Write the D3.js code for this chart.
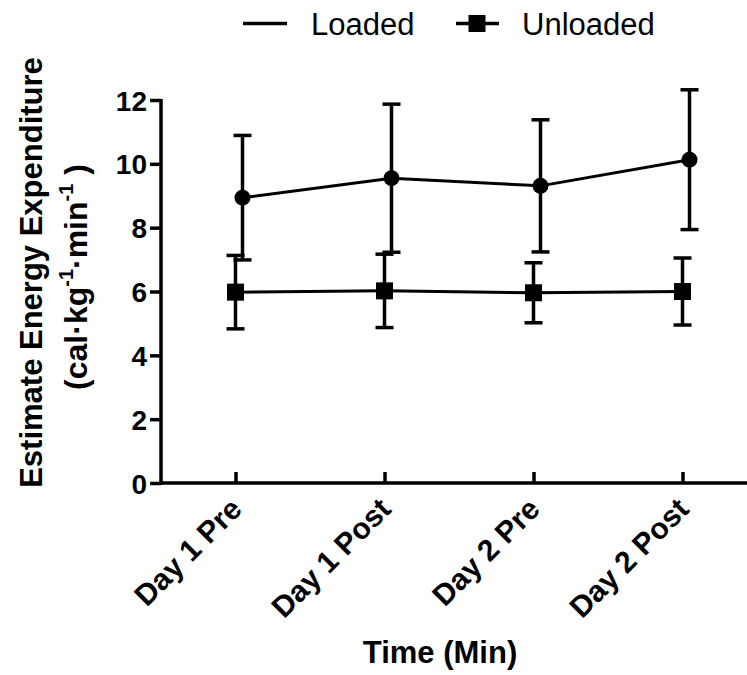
<!DOCTYPE html>
<html>
<head>
<meta charset="utf-8">
<script src="https://cdn.jsdelivr.net/npm/d3@7/dist/d3.min.js"></script>
<style>
  html, body { margin: 0; padding: 0; background: #fff; }
  svg { display: block; font-family: "Liberation Sans", Arial, Helvetica, sans-serif; }
</style>
</head>
<body>
<svg id="chart" width="747" height="675"></svg>
<script>
const categories = ["Day 1 Pre", "Day 1 Post", "Day 2 Pre", "Day 2 Post"];
const loadedMean = [8.94, 9.55, 9.31, 10.13];
const loadedSD = [1.95, 2.32, 2.07, 2.19];
const unloadedMean = [5.98, 6.02, 5.96, 6.00];
const unloadedSD = [1.15, 1.15, 0.94, 1.05];
const yTicks = [0, 2, 4, 6, 8, 10, 12];
const seriesNames = ["Loaded", "Unloaded"];

(function () {
const svg = d3.select("#chart");
const pLeft = 161, pTop = 100, pBottom = 483, pRight = 757;

const x = d3.scalePoint().domain(categories).range([pLeft, pRight]).padding(0.5);
const y = d3.scaleLinear().domain([0, 12]).range([pBottom, pTop]);

// Axes
const yAxis = svg.append("g").attr("transform", `translate(${pLeft},0)`)
  .call(d3.axisLeft(y).tickValues(yTicks).tickSize(11).tickPadding(3).tickFormat(d3.format("d")));
const xAxis = svg.append("g").attr("transform", `translate(0,${pBottom})`)
  .call(d3.axisBottom(x).tickSize(-11).tickFormat(""));
[yAxis, xAxis].forEach(g => {
  g.select(".domain").attr("stroke", "#000").attr("stroke-width", 3.5);
  g.selectAll(".tick line").attr("stroke", "#000").attr("stroke-width", 3.5);
});
yAxis.select(".domain").attr("d", `M0,${pBottom + 1.75}V${pTop - 1}`);
xAxis.select(".domain").attr("d", `M${-1.75 + pLeft},0H${pRight}`);
xAxis.selectAll(".tick line").attr("y1", 0).attr("y2", -11);

yAxis.selectAll(".tick text")
  .attr("font-size", 28).attr("font-weight", "bold").attr("fill", "#000")
  .attr("dy", "0.36em");

// X tick labels rotated
svg.append("g").selectAll("text").data(categories).join("text")
  .attr("transform", d => `translate(${x(d) + 8},${pBottom + 28}) rotate(-45)`)
  .attr("text-anchor", "end")
  .attr("font-size", 30).attr("font-weight", "bold")
  .text(d => d);

// Axis titles
svg.append("text")
  .attr("x", 440).attr("y", 663)
  .attr("text-anchor", "middle").attr("font-size", 31).attr("font-weight", "bold")
  .text("Time (Min)");

const yt = svg.append("text")
  .attr("transform", "translate(42,272.5) rotate(-90)")
  .attr("text-anchor", "middle").attr("font-size", 31).attr("font-weight", "bold");
yt.append("tspan").attr("x", 0).attr("y", 0).text("Estimate  Energy Expenditure");
const yt2 = svg.append("text")
  .attr("transform", "translate(87,277) rotate(-90)")
  .attr("text-anchor", "middle").attr("font-size", 32).attr("font-weight", "bold");
yt2.append("tspan").text("(cal·kg");
yt2.append("tspan").attr("font-size", 20).attr("dy", -14).text("-1");
yt2.append("tspan").attr("dy", 14).text("·min");
yt2.append("tspan").attr("font-size", 20).attr("dy", -14).text("-1");
yt2.append("tspan").attr("dy", 14).text(" )");

// Series
const series = [
  { name: seriesNames[0], mean: loadedMean, sd: loadedSD, off: 7, marker: "circle" },
  { name: seriesNames[1], mean: unloadedMean, sd: unloadedSD, off: 0, marker: "square" }
];
const capW = 9;
series.forEach(s => {
  const pts = categories.map((c, i) => ({ x: x(c) + s.off, m: s.mean[i], sd: s.sd[i] }));
  const g = svg.append("g");
  pts.forEach(p => {
    g.append("line").attr("x1", p.x).attr("x2", p.x)
      .attr("y1", y(p.m + p.sd)).attr("y2", y(p.m - p.sd))
      .attr("stroke", "#000").attr("stroke-width", 3.5);
    [p.m + p.sd, p.m - p.sd].forEach(v => {
      g.append("line").attr("x1", p.x - capW).attr("x2", p.x + capW)
        .attr("y1", y(v)).attr("y2", y(v))
        .attr("stroke", "#000").attr("stroke-width", 3.5);
    });
  });
  g.append("path").datum(pts)
    .attr("d", d3.line().x(p => p.x).y(p => y(p.m)))
    .attr("fill", "none").attr("stroke", "#000").attr("stroke-width", 3);
  if (s.marker === "circle") {
    g.selectAll("circle").data(pts).join("circle")
      .attr("cx", p => p.x).attr("cy", p => y(p.m)).attr("r", 8).attr("fill", "#000");
  } else {
    g.selectAll("rect").data(pts).join("rect")
      .attr("x", p => p.x - 8.5).attr("y", p => y(p.m) - 8.5)
      .attr("width", 17).attr("height", 17).attr("fill", "#000");
  }
});

// Legend
const lg = svg.append("g");
lg.append("line").attr("x1", 243).attr("x2", 287).attr("y1", 23.5).attr("y2", 23.5)
  .attr("stroke", "#000").attr("stroke-width", 3.5);
lg.append("text").attr("x", 311).attr("y", 35).attr("font-size", 31).text(seriesNames[0]);
lg.append("line").attr("x1", 456).attr("x2", 499).attr("y1", 23.5).attr("y2", 23.5)
  .attr("stroke", "#000").attr("stroke-width", 3.5);
lg.append("rect").attr("x", 468.5).attr("y", 15).attr("width", 17).attr("height", 17).attr("fill", "#000");
lg.append("text").attr("x", 522).attr("y", 35).attr("font-size", 31).text(seriesNames[1]);
})();
</script>
</body>
</html>
